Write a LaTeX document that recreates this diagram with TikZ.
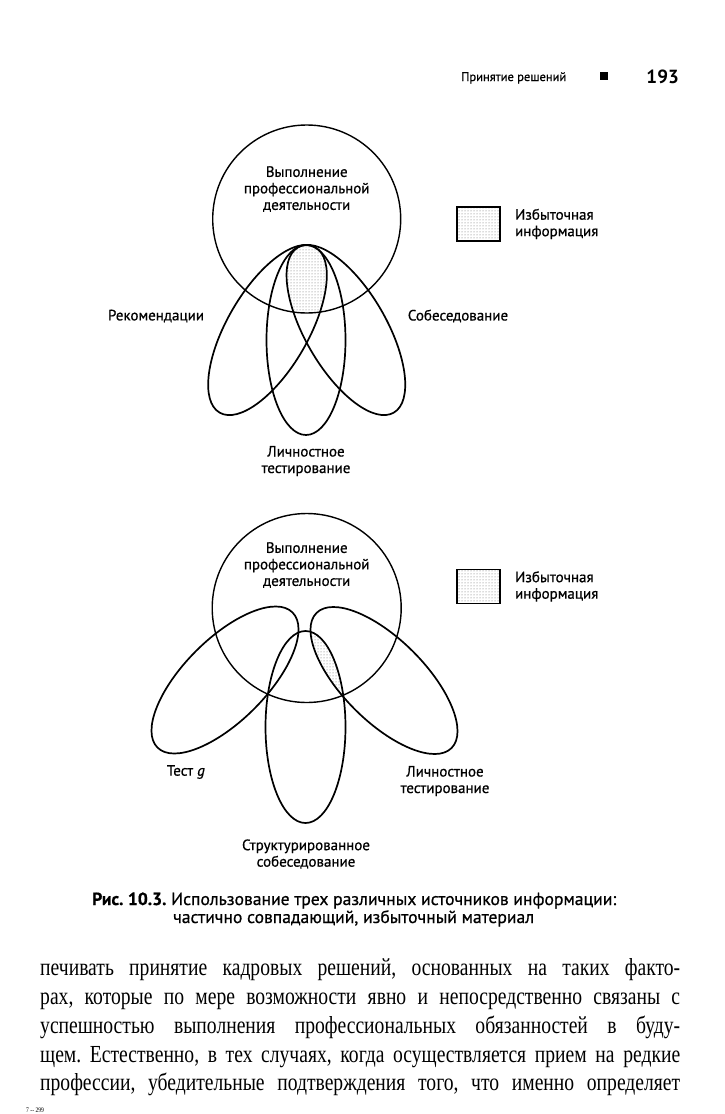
\documentclass[tikz,border=0pt]{standalone}
\usepackage{fontspec}
\setmainfont{Liberation Serif}
\setsansfont{PT Sans}
\newfontfamily\labelfont[FakeBold=0.7]{PT Sans}
\newfontfamily\bodyfont[FakeStretch=0.8]{Liberation Serif}
\usetikzlibrary{positioning,patterns}
\frenchspacing

\begin{document}
\begin{tikzpicture}[x=1pt,y=-1pt,
  lbl/.style={font=\labelfont\fontsize{15}{16.5}\selectfont,align=center,inner sep=0pt},
  loop/.style={line width=1.7pt},
  ring/.style={line width=1.4pt},
  stipple/.style={pattern=dots,pattern color=black!60},
  legend/.style={draw,line width=1.8pt,minimum width=43pt,minimum height=34pt,stipple,inner sep=0pt},
  capline/.style={font=\labelfont\fontsize{17.6}{20}\selectfont,anchor=base west,inner sep=0pt},
  bodyline/.style={font=\bodyfont\fontsize{24.5}{28}\selectfont,anchor=base west,inner sep=0pt}]
\useasboundingbox (0,0) rectangle (725,1114);

% running head
\node[font=\labelfont\fontsize{12.5}{15}\selectfont,anchor=base west,inner sep=0pt] (head) at (461,81) {Принятие решений};
\node[fill,minimum size=8pt,inner sep=0pt]                                        (mark) at (604,76) {};
\node[font=\sffamily\bfseries\fontsize{19}{20}\selectfont,anchor=base east,inner sep=0pt] (page) at (679,83) {193};

% upper figure
\begin{scope}
  \clip (306.7,219) circle (94);
  \clip[rotate around={59.9:(267.5,330)}] (267.5,330) ellipse [x radius=95.5,y radius=40.5];
  \fill[stipple,rotate around={-59.9:(345.9,330)}] (345.9,330) ellipse [x radius=95.5,y radius=40.5];
\end{scope}
\draw[ring] (306.7,219) circle (94);
\draw[loop,rotate around={59.9:(267.5,330)}]  (267.5,330) ellipse [x radius=95.5,y radius=40.5];
\draw[loop,rotate around={-59.9:(345.9,330)}] (345.9,330) ellipse [x radius=95.5,y radius=40.5];
\draw[loop] (306,340) ellipse [x radius=39.5,y radius=95];
\node[lbl] (job1) at (306.7,189) {Выполнение\\профессиональной\\деятельности};
\node[lbl] (rec)  at (156,316)   {Рекомендации};
\node[lbl] (intv) at (458,316)   {Собеседование};
\node[lbl] (pers1) at (306,461)  {Личностное\\тестирование};
\node[legend] (red1) at (478.5,224) {};
\node[lbl,align=left,right=14pt of red1] (redtxt1) {Избыточная\\информация};

% lower figure
\begin{scope}
  \clip (306.7,608) circle (94.5);
  \clip (305.5,727) ellipse [x radius=40,y radius=96];
  \fill[stipple,rotate around={-45:(384,680.5)}] (384,680.5) ellipse [x radius=95.5,y radius=41];
\end{scope}
\draw[ring] (306.7,608) circle (94.5);
\draw[loop,rotate around={45:(225,680)}]    (225,680) ellipse [x radius=95.5,y radius=41];
\draw[loop,rotate around={-45:(384,680.5)}] (384,680.5) ellipse [x radius=95.5,y radius=41];
\draw[loop] (305.5,727) ellipse [x radius=40,y radius=96];
\node[lbl] (job2) at (306.7,565) {Выполнение\\профессиональной\\деятельности};
\node[lbl,anchor=east] (testg) at (205,772) {Тест \textit{g}};
\node[lbl] (pers2) at (445,781) {Личностное\\тестирование};
\node[lbl] (strint) at (306,854) {Структурированное\\собеседование};
\node[legend] (red2) at (478.5,586.5) {};
\node[lbl,align=left,right=14pt of red2] (redtxt2) {Избыточная\\информация};

% caption
\node[capline] (cap1) at (92,905) {\textbf{Рис. 10.3.} Использование трех различных источников информации:};
\node[capline] (cap2) at (173,923) {частично совпадающий, избыточный материал};

% body text
\node[bodyline] (txt1) at (40,975)  {\makebox[640pt][s]{печивать принятие кадровых решений, основанных на таких факто-}};
\node[bodyline] (txt2) at (40,1004) {\makebox[640pt][s]{рах, которые по мере возможности явно и непосредственно связаны с}};
\node[bodyline] (txt3) at (40,1033) {\makebox[640pt][s]{успешностью выполнения профессиональных обязанностей в буду-}};
\node[bodyline] (txt4) at (40,1062) {\makebox[640pt][s]{щем. Естественно, в тех случаях, когда осуществляется прием на редкие}};
\node[bodyline] (txt5) at (40,1090) {\makebox[640pt][s]{профессии, убедительные подтверждения того, что именно определяет}};
\node[font=\bodyfont\fontsize{7}{8}\selectfont,anchor=base west,inner sep=0pt] (sig) at (26,1112) {7 -- 299};
\end{tikzpicture}
\end{document}
